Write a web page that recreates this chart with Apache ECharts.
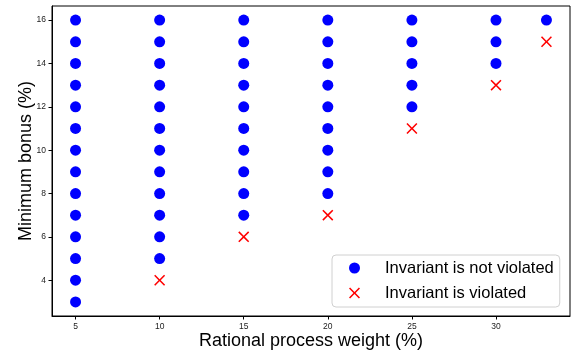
<!DOCTYPE html>
<html>
<head>
<meta charset="utf-8">
<script src="https://cdn.jsdelivr.net/npm/echarts@6/dist/echarts.min.js"></script>
<style>html,body{margin:0;padding:0;background:#fff;}#c{width:575px;height:353px;}</style>
</head>
<body>
<div id="c"></div>
<script>
// Data
var weights = [5, 10, 15, 20, 25, 30, 33];
var minNotViolated = [3, 5, 7, 8, 12, 14, 16]; // blue dots from this value up to 16
var violatedBonus = [null, 4, 6, 7, 11, 13, 15]; // red crosses
var maxBonus = 16;
var xTicks = [5, 10, 15, 20, 25, 30];
var yTicks = [4, 6, 8, 10, 12, 14, 16];

var okPoints = [];
for (var i = 0; i < weights.length; i++) {
  for (var b = minNotViolated[i]; b <= maxBonus; b++) okPoints.push([weights[i], b]);
}
var badPoints = [];
for (var j = 0; j < weights.length; j++) {
  if (violatedBonus[j] !== null) badPoints.push([weights[j], violatedBonus[j]]);
}

var FONT = '"Liberation Sans", Arial, Helvetica, sans-serif';
var cross = 'path://M0,0.1L0.1,0L0.5,0.4L0.9,0L1,0.1L0.6,0.5L1,0.9L0.9,1L0.5,0.6L0.1,1L0,0.9L0.4,0.5Z';

var chart = echarts.init(document.getElementById('c'), null, {renderer: 'canvas'});
chart.setOption({
  animation: false,
  backgroundColor: '#fff',
  textStyle: {fontFamily: FONT},
  grid: {left: 52, top: 6, right: 5, bottom: 37, outerBoundsMode: 'none', containLabel: false,
         show: true, borderColor: '#000', borderWidth: 1, backgroundColor: 'transparent'},
  xAxis: {
    type: 'value', min: 3.6, max: 34.4,
    name: 'Rational process weight (%)', nameLocation: 'middle', nameGap: 16, nameMoveOverlap: false,
    nameTextStyle: {fontSize: 18, color: '#000', fontFamily: FONT},
    axisLine: {show: true, onZero: false, lineStyle: {color: '#000', width: 1}},
    axisTick: {show: true, length: 3.5, lineStyle: {color: '#000'}, customValues: xTicks},
    axisLabel: {fontSize: 8.5, color: '#222', margin: 6, customValues: xTicks, fontFamily: FONT},
    splitLine: {show: false}
  },
  yAxis: {
    type: 'value', min: 2.35, max: 16.65,
    name: 'Minimum bonus (%)', nameLocation: 'middle', nameGap: 17, nameMoveOverlap: false,
    nameTextStyle: {fontSize: 18, color: '#000', fontFamily: FONT},
    axisLine: {show: true, onZero: false, lineStyle: {color: '#000', width: 1}},
    axisTick: {show: true, length: 3.5, lineStyle: {color: '#000'}, customValues: yTicks},
    axisLabel: {fontSize: 8.5, color: '#222', margin: 6, customValues: yTicks, fontFamily: FONT},
    splitLine: {show: false}
  },
  legend: {
    orient: 'vertical', left: 332, top: 255,
    padding: [4, 6, 5, 17],
    backgroundColor: '#fff', borderColor: '#d0d0d0', borderWidth: 1, borderRadius: 4,
    itemWidth: 11, itemHeight: 11, itemGap: 7,
    textStyle: {fontSize: 16.5, color: '#000', fontFamily: FONT, padding: [0, 0, 0, 20], lineHeight: 18},
    data: [
      {name: 'Invariant is not violated', icon: 'circle'},
      {name: 'Invariant is violated', icon: cross}
    ]
  },
  series: [
    {
      name: 'Invariant is not violated', type: 'scatter', data: okPoints,
      symbol: 'circle', symbolSize: 11,
      itemStyle: {color: '#0000ff', opacity: 1}
    },
    {
      name: 'Invariant is violated', type: 'scatter', data: badPoints,
      symbol: cross, symbolSize: 11,
      itemStyle: {color: '#ff0000', opacity: 1}
    }
  ]
});
</script>
</body>
</html>
